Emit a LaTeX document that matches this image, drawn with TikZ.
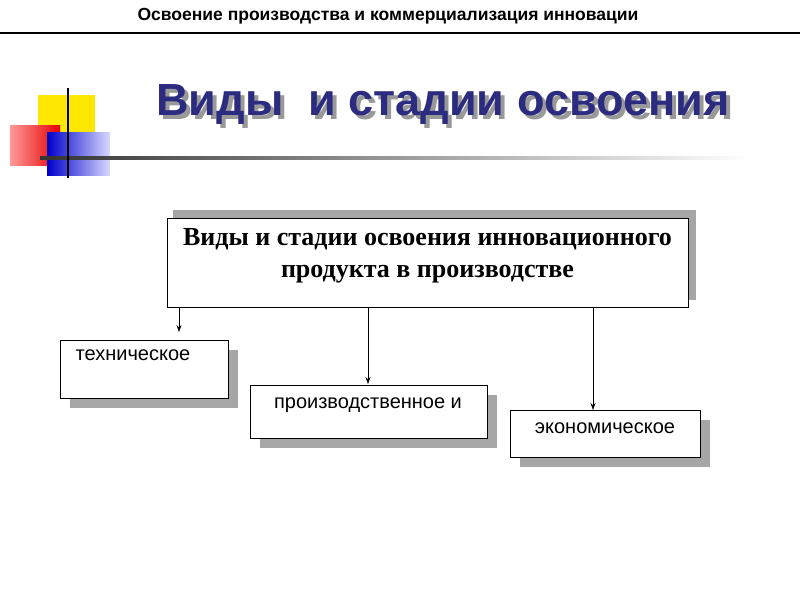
\documentclass[tikz,border=0pt]{standalone}
\usepackage{fontspec}
\setmainfont{Liberation Serif}
\setsansfont{Liberation Sans}
\usetikzlibrary{arrows.meta,shadings}
\definecolor{ttl}{HTML}{2B2B80}
\tikzset{
 sbox/.style={draw=black,fill=white,line width=0.8pt},
 shd/.style={fill=gray!70,draw=none},
 lbl/.style={font=\sffamily\fontsize{20}{24}\selectfont,anchor=north},
 arr/.style={-{Stealth[length=7pt,width=5pt]},line width=0.6pt}
}
\begin{document}
\begin{tikzpicture}[x=1pt,y=-1pt]
\useasboundingbox (0,0) rectangle (800,600);
\fill[white] (0,0) rectangle (800,600);
\node (hdr) at (388,16) {\sffamily\bfseries\fontsize{17.5}{20}\selectfont Освоение производства и коммерциализация инновации};
\draw[line width=2pt] (0,33) -- (800,33);
% decor
\fill[yellow!90!orange] (38,95) rectangle (95,150);
\shade[left color=red!40,right color=red!90!black] (10,125) rectangle (60,165);
\shade[left color=blue!80!black,right color=blue!15] (47,132) rectangle (110,175);
\shade[left color=black!80,right color=white] (40,156) rectangle (750,159);
\draw[line width=1.2pt] (68,88) -- (68,178);
% title
\node[text=gray!80] at (447,108) {\sffamily\bfseries\fontsize{45}{50}\selectfont Виды\ \ и стадии освоения};
\node[text=ttl] (title) at (443,104) {\sffamily\bfseries\fontsize{45}{50}\selectfont Виды\ \ и стадии освоения};
% main box
\fill[shd] (173,210) rectangle (696,300);
\draw[sbox] (167,218) rectangle (688,307);
\node[align=center,font=\bfseries\fontsize{26}{32}\selectfont] (main) at (427.5,256) {Виды и стадии освоения инновационного\\продукта в производстве};
\coordinate (m1) at (179,307);\coordinate (m2) at (368,307);\coordinate (m3) at (593,307);
% sub boxes
\fill[shd] (70,350) rectangle (238,408);
\draw[sbox] (60,340) rectangle (228,398);
\node[lbl] (b1) at (133,346) {техническое};
\fill[shd] (260,395) rectangle (497,448);
\draw[sbox] (250,385) rectangle (487,438);
\node[lbl] (b2) at (368,394) {производственное и};
\fill[shd] (520,420) rectangle (710,467);
\draw[sbox] (510,410) rectangle (700,457);
\node[lbl] (b3) at (605,419) {экономическое};
\coordinate (e1) at (179,332);\coordinate (e2) at (368,384);\coordinate (e3) at (593,410);
\draw[arr] (m1) -- (e1);
\draw[arr] (m2) -- (e2);
\draw[arr] (m3) -- (e3);
\end{tikzpicture}
\end{document}
